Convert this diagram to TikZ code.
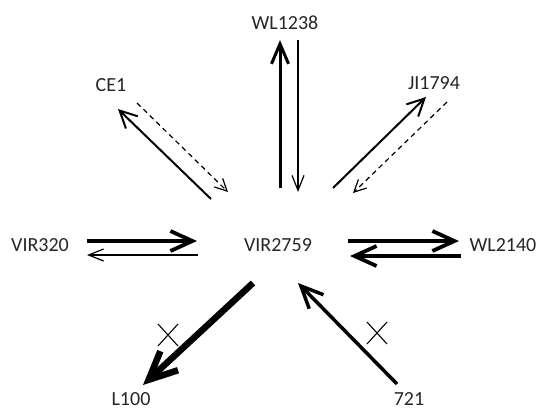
\documentclass[tikz,border=0pt]{standalone}
\usepackage{fontspec}
\setmainfont{Carlito}
\usetikzlibrary{arrows.meta}
\begin{document}
\begin{tikzpicture}[x=1pt,y=-1pt,
  lbl/.style={inner sep=0pt, font=\fontsize{20}{24}\selectfont, text=black!85},
  thickarr/.style={line width=3.8pt, -{Straight Barb[length=22pt,width=20pt]}},
  vertarr/.style={line width=3pt, -{Straight Barb[length=20pt,width=17pt]}},
  medarr/.style={line width=2pt, -{Straight Barb[length=17pt,width=17pt]}},
  boldarr/.style={line width=3.5pt, -{Straight Barb[length=22pt,width=20pt]}},
  heavyarr/.style={line width=6.5pt, -{Straight Barb[length=28pt,width=26pt]}},
  thinarr/.style={line width=1.2pt, -{Straight Barb[length=15pt,width=12pt]}},
  dasharr/.style={line width=1.2pt, dash pattern=on 5pt off 4pt, -{Straight Barb[length=12pt,width=12pt]}},
  cross/.style={line width=1.1pt}]
\useasboundingbox (0,0) rectangle (542,410);
% labels
\node[lbl] (wl1238) at (285,23) {WL1238};
\node[lbl] (ce1) at (111,85) {CE1};
\node[lbl] (ji1794) at (434,83) {JI1794};
\node[lbl] (vir320) at (40,245) {VIR320};
\node[lbl] (vir2759) at (278,245) {VIR2759};
\node[lbl] (wl2140) at (503,245) {WL2140};
\node[lbl] (l100) at (131,399) {L100};
\node[lbl] (n721) at (409,399) {721};
% endpoint coordinates
\coordinate (a1s) at (280,188); \coordinate (a1e) at (280,40);
\coordinate (a2s) at (298,40);  \coordinate (a2e) at (298,192);
\coordinate (a3s) at (211,199); \coordinate (a3e) at (118,109);
\coordinate (a4s) at (137,103); \coordinate (a4e) at (228,192);
\coordinate (a5s) at (333,188); \coordinate (a5e) at (426,97);
\coordinate (a6s) at (447,102); \coordinate (a6e) at (353,193);
\coordinate (a7s) at (87,241);  \coordinate (a7e) at (197,241);
\coordinate (a8s) at (198,255); \coordinate (a8e) at (87,255);
\coordinate (a9s) at (348,241); \coordinate (a9e) at (459,241);
\coordinate (a10s) at (461,256); \coordinate (a10e) at (350,256);
\coordinate (a11s) at (253,283); \coordinate (a11e) at (143,385);
\coordinate (a12s) at (397,384); \coordinate (a12e) at (298,283);
\coordinate (x1) at (168,335);
\coordinate (x2) at (377,333);
% arrows
\draw[vertarr] (a1s) -- (a1e);
\draw[thinarr] (a2s) -- (a2e);
\draw[medarr] (a3s) -- (a3e);
\draw[dasharr] (a4s) -- (a4e);
\draw[medarr] (a5s) -- (a5e);
\draw[dasharr] (a6s) -- (a6e);
\draw[thickarr] (a7s) -- (a7e);
\draw[thinarr] (a8s) -- (a8e);
\draw[thickarr] (a9s) -- (a9e);
\draw[thickarr] (a10s) -- (a10e);
\draw[heavyarr] (a11s) -- (a11e);
\draw[boldarr] (a12s) -- (a12e);
% crosses
\draw[cross] ([shift={(-10,-11)}]x1) -- ([shift={(10,11)}]x1)
             ([shift={(-10,11)}]x1) -- ([shift={(10,-11)}]x1);
\draw[cross] ([shift={(-10,-11)}]x2) -- ([shift={(10,11)}]x2)
             ([shift={(-10,11)}]x2) -- ([shift={(10,-11)}]x2);
\end{tikzpicture}
\end{document}
